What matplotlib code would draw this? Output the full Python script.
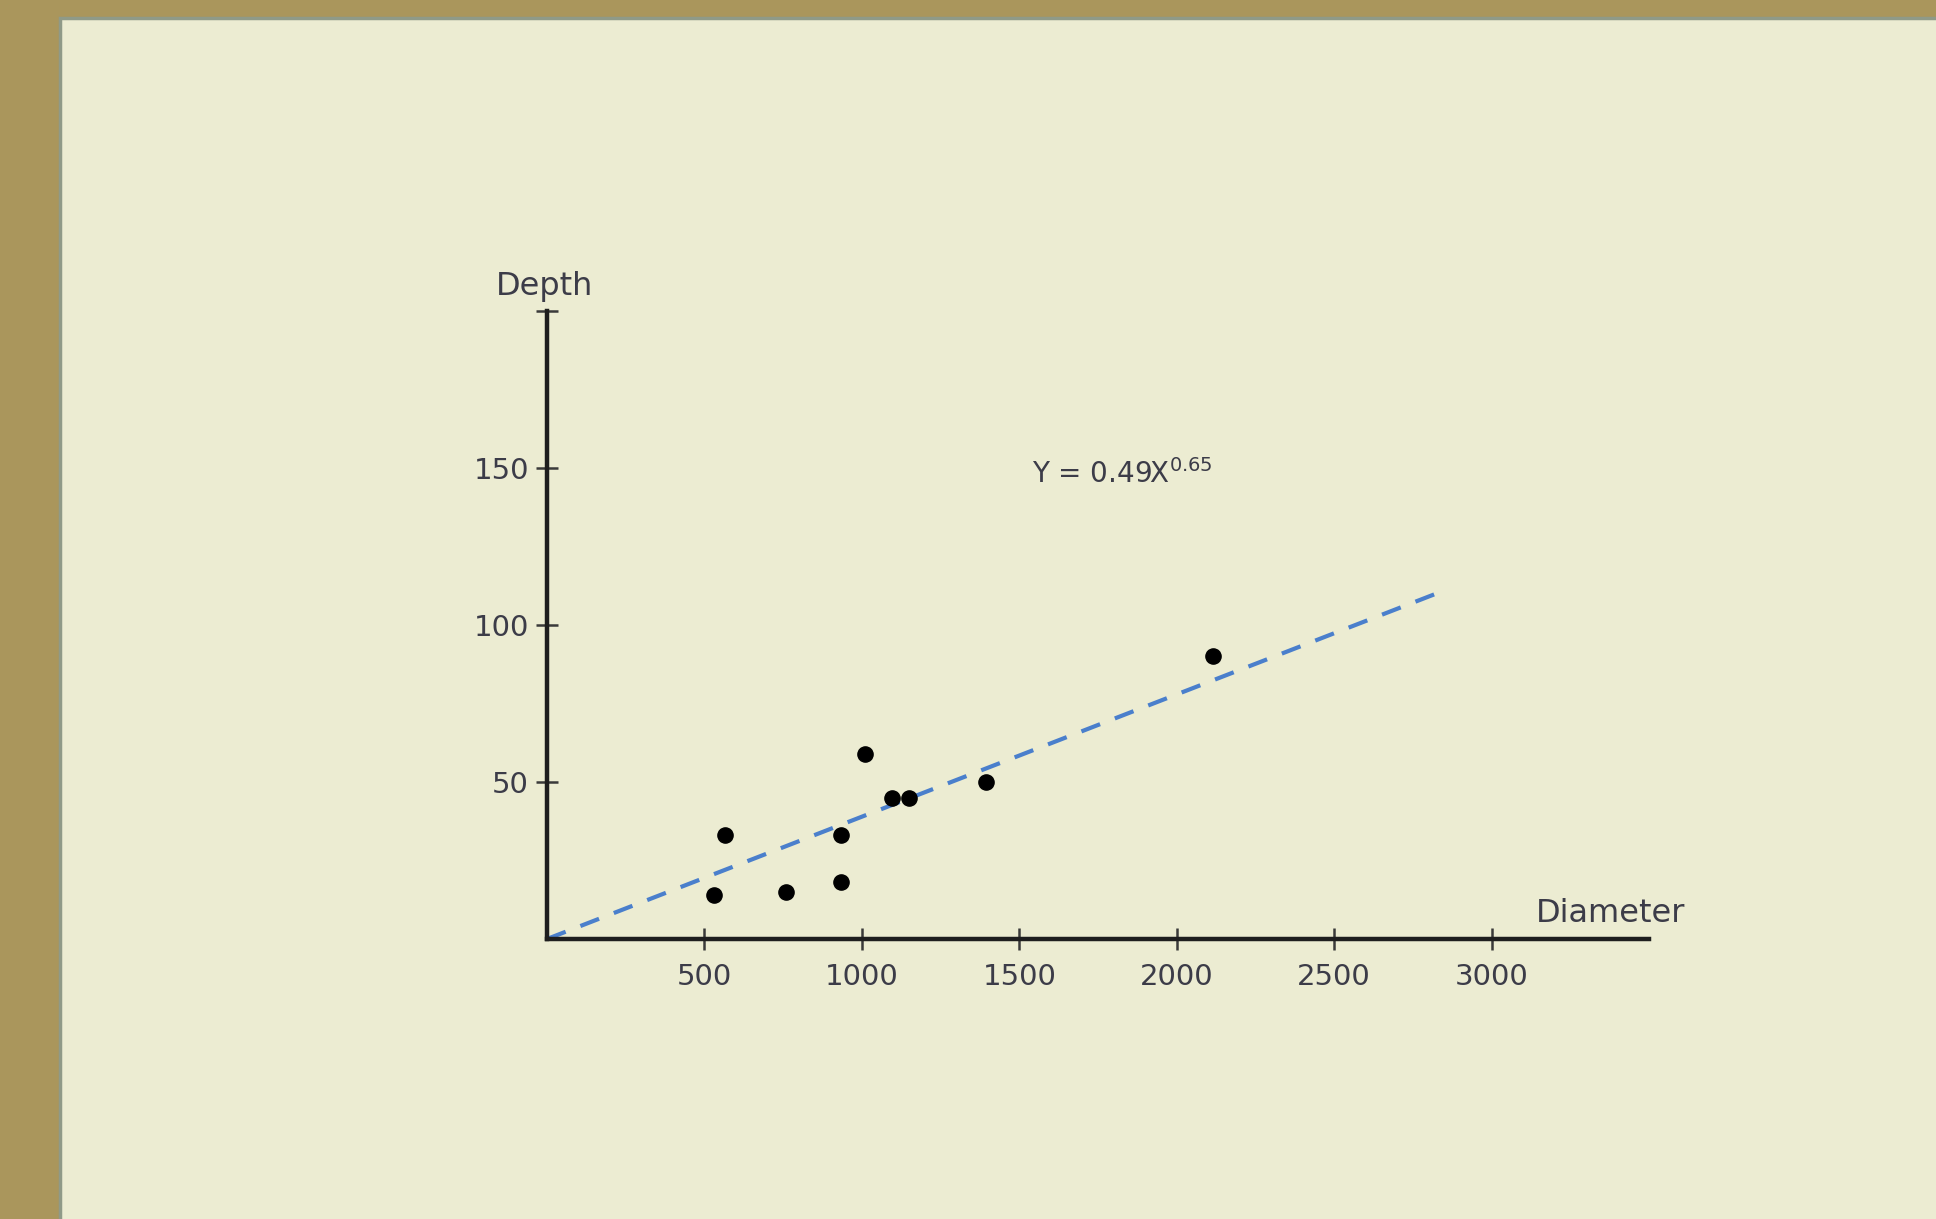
import matplotlib
matplotlib.use("Agg")
from matplotlib import pyplot as plt
from matplotlib.patches import Rectangle

diameters = [530, 565, 760, 935, 935, 1010, 1095, 1150, 1395, 2115]
depths = [14, 33, 15, 18, 33, 59, 45, 45, 50, 90]

# Trend line end points
trend_x = [0, 2850]
trend_y = [0, 111]

x_ticks = [500, 1000, 1500, 2000, 2500, 3000]
y_ticks = [50, 100, 150]

equation = r"Y = 0.49X$^{0.65}$"

plt.rcParams['font.family'] = ['DejaVu Sans']

fig = plt.figure(figsize=(19.36, 12.19), dpi=100)
fig.patch.set_facecolor('#AA965C')

# Light panel sitting on the brown frame (runs off the right and bottom edges)
panel = Rectangle((60 / 1936, -0.05), 1.0, 1.05 - 18 / 1219,
                  transform=fig.transFigure, facecolor='#ECECD2',
                  edgecolor='#8F9A88', linewidth=2.5, zorder=-5)
fig.patches.append(panel)

ax = fig.add_axes([547 / 1936, 1 - 939 / 1219, 1102 / 1936, 628 / 1219])
ax.set_zorder(2)
ax.set_facecolor('none')
ax.set_xlim(0, 3500)
ax.set_ylim(0, 200)

for side in ['top', 'right']:
    ax.spines[side].set_visible(False)
for side in ['left', 'bottom']:
    ax.spines[side].set_linewidth(3.2)
    ax.spines[side].set_color('#1E1E1E')

ax.set_xticks(x_ticks)
ax.set_yticks(y_ticks + [200])
ax.set_yticklabels([str(v) for v in y_ticks] + [''])
ax.tick_params(axis='both', direction='inout', length=16, width=1.8,
               color='#3A3A3A', labelsize=21, labelcolor='#3C3C48')
ax.tick_params(axis='x', pad=9)
ax.tick_params(axis='y', pad=5)

# Trend line and points
ax.plot(trend_x, trend_y, color='#4A7FCC', linewidth=3, dashes=(4.8, 3.8),
        clip_on=False, zorder=2)
ax.scatter(diameters, depths, s=120, color='black', zorder=3)

ax.text(1540, 148, equation, fontsize=20, color='#3C3C48', ha='left', va='center')

# Axis names placed like the original
fig.text(545 / 1936, 1 - 286 / 1219, 'Depth', fontsize=23, color='#3C3C48',
         ha='center', va='center')
fig.text(1611 / 1936, 1 - 914 / 1219, 'Diameter', fontsize=23, color='#3C3C48',
         ha='center', va='center')

fig.savefig('out.png', dpi=100, facecolor=fig.get_facecolor())
